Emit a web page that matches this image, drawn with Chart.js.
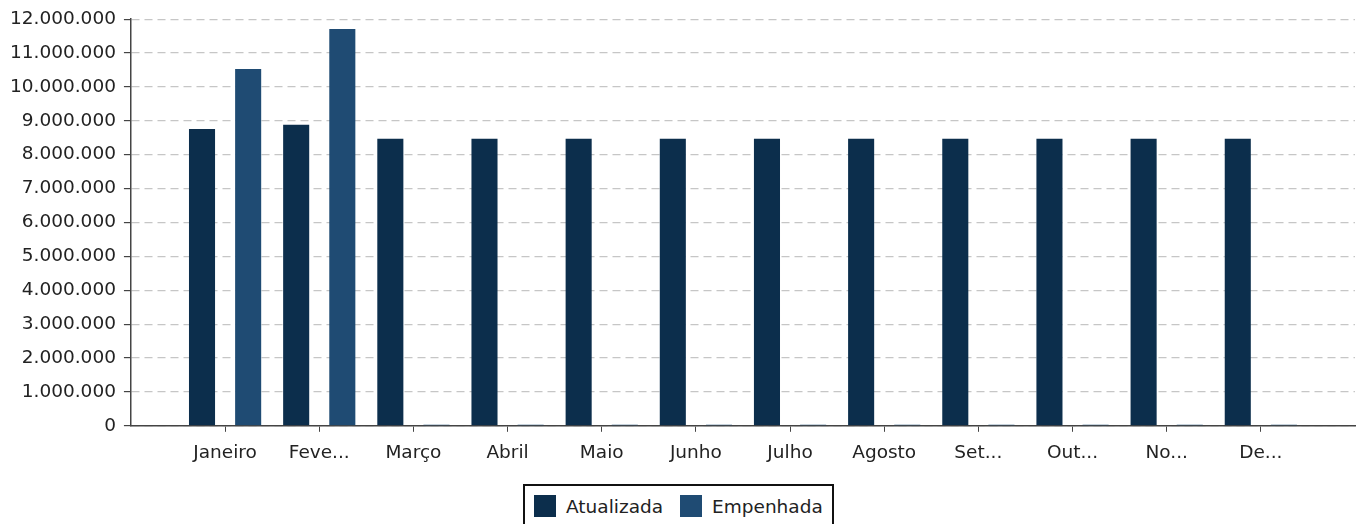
<!DOCTYPE html>
<html>
<head>
<meta charset="utf-8">
<script src="https://cdn.jsdelivr.net/npm/chart.js@4.4.1/dist/chart.umd.min.js"></script>
<style>
  html, body { margin: 0; padding: 0; background: #fff; }
  #wrap { position: relative; width: 1365px; height: 524px; overflow: hidden; }
  #chart { position: absolute; left: 0; top: 0; }
  .legend {
    position: absolute; left: 523px; top: 484px; width: 311px; height: 44px;
    border: 2px solid #111; box-sizing: border-box; background: #fff;
    font-family: 'DejaVu Sans', sans-serif; font-size: 18.5px; color: #222;
    display: flex; align-items: flex-start; padding: 9px 0 0 9px;
  }
  .legend span.sw { display: inline-block; width: 22px; height: 22px; margin-right: 10px; }
  .legend .item { display: flex; align-items: center; margin-right: 17px; }
</style>
</head>
<body>
<div id="wrap">
  <canvas id="chart" width="1365" height="474"></canvas>
  <div class="legend">
    <div class="item"><span class="sw" style="background:#0c2e4c"></span>Atualizada</div>
    <div class="item"><span class="sw" style="background:#1f4b73"></span>Empenhada</div>
  </div>
</div>
<script>
// months (first and last slots are empty padding)
const months = ['', 'Janeiro', 'Feve...', 'Março', 'Abril', 'Maio', 'Junho', 'Julho', 'Agosto', 'Set...', 'Out...', 'No...', 'De...', ''];
const atualizada = [null, 8760000, 8880000, 8470000, 8470000, 8470000, 8470000, 8470000, 8470000, 8470000, 8470000, 8470000, 8470000, null];
const empenhada = [null, 10530000, 11710000, 0, 0, 0, 0, 0, 0, 0, 0, 0, 0, null];
const yTicks = { min: 0, max: 12000000, step: 1000000 };

const fontCfg = { family: "'DejaVu Sans', sans-serif", size: 18.5 };

function fmt(v) {
  return String(v).replace(/\B(?=(\d{3})+(?!\d))/g, '.');
}

new Chart(document.getElementById('chart'), {
  type: 'bar',
  data: {
    labels: months,
    datasets: [
      {
        label: 'Atualizada',
        data: atualizada,
        backgroundColor: '#0c2e4c',
        barPercentage: 0.565,
        categoryPercentage: 0.98
      },
      {
        label: 'Empenhada',
        data: empenhada,
        backgroundColor: '#1f4b73',
        barPercentage: 0.565,
        categoryPercentage: 0.98,
        minBarLength: 1
      }
    ]
  },
  options: {
    responsive: false,
    animation: false,
    layout: { padding: { left: 2, right: 7, top: 7, bottom: 0 } },
    plugins: {
      legend: { display: false },
      tooltip: { enabled: false }
    },
    scales: {
      x: {
        offset: false,
        grid: {
          offset: false,
          drawOnChartArea: false,
          drawTicks: true,
          tickLength: 6,
          tickColor: (ctx) => (ctx.index === 0 || ctx.index === months.length - 1) ? 'rgba(0,0,0,0)' : '#444'
        },
        border: { color: '#444', width: 1.5 },
        ticks: {
          color: '#222',
          font: fontCfg,
          maxRotation: 0,
          autoSkip: false,
          padding: 10
        }
      },
      y: {
        min: yTicks.min,
        max: yTicks.max,
        grid: {
          color: '#c6c6c6',
          tickColor: '#444',
          tickLength: 7,
          lineWidth: 1.2
        },
        border: { color: '#444', width: 1.5, dash: [8, 5] },
        ticks: {
          stepSize: yTicks.step,
          color: '#222',
          font: fontCfg,
          padding: 8,
          callback: (v) => fmt(v)
        }
      }
    }
  }
});
</script>
</body>
</html>
